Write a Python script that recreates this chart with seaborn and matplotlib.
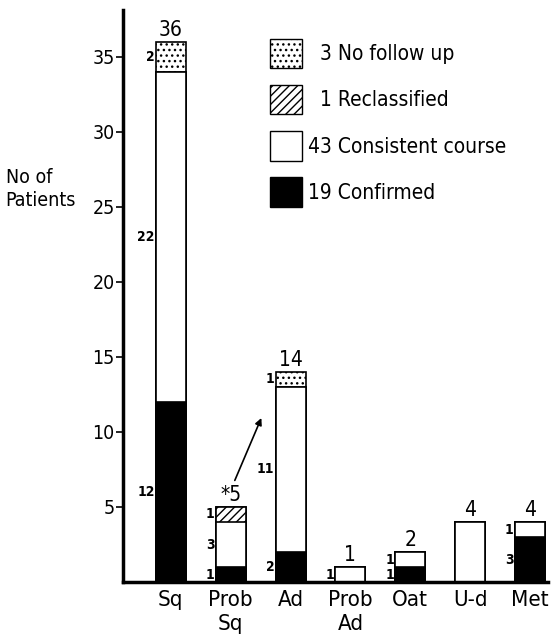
import matplotlib
matplotlib.use("Agg")
import matplotlib.pyplot as plt
import matplotlib.patches as mpatches
import seaborn as sns
import pandas as pd

# Patients by histological group
groups = ['Sq', 'Prob\nSq', 'Ad', 'Prob\nAd', 'Oat', 'U-d', 'Met']
confirmed = [12, 1, 2, 0, 1, 0, 3]
consistent = [22, 3, 11, 1, 1, 4, 1]
reclassified = [0, 1, 0, 0, 0, 0, 0]
no_follow_up = [2, 0, 1, 0, 0, 0, 0]
total_labels = ['36', '*5', '14', '1', '2', '4', '4']
show_counts = [True, True, True, True, True, False, True]

legend_counts = ['3', '1', '43', '19']
legend_names = ['No follow up', 'Reclassified', 'Consistent course', 'Confirmed']

sns.set_style("white")
plt.rcParams['font.family'] = ['DejaVu Sans']
plt.rcParams['font.stretch'] = 'condensed'
plt.rcParams['hatch.linewidth'] = 1.0
for k in ['text.color', 'axes.labelcolor', 'xtick.color', 'ytick.color']:
    plt.rcParams[k] = 'black'

df = pd.DataFrame({'group': groups, 'confirmed': confirmed, 'consistent': consistent,
                   'reclassified': reclassified, 'no_follow_up': no_follow_up})
df['c1'] = df['confirmed']
df['c2'] = df['c1'] + df['consistent']
df['c3'] = df['c2'] + df['reclassified']
df['c4'] = df['c3'] + df['no_follow_up']

fig = plt.figure(figsize=(5.54, 6.41), dpi=100)
ax = fig.add_axes([0.222, 0.092, 0.767, 0.892])

stipple = '...'
# stacked bars drawn back to front
layers = [('c4', 'white', stipple), ('c3', 'white', '////'), ('c2', 'white', None), ('c1', 'black', None)]
for col, color, hatch in layers:
    sns.barplot(data=df, x='group', y=col, color=color, saturation=1, width=0.5,
                edgecolor='black', linewidth=1.2, hatch=hatch, ax=ax, errorbar=None)

# segment counts to the left of each bar
segs = ['confirmed', 'consistent', 'reclassified', 'no_follow_up']
for i in range(len(groups)):
    base = 0
    for s in segs:
        v = df[s][i]
        if v > 0 and show_counts[i]:
            ax.text(i - 0.27, base + v / 2, str(v), ha='right', va='center',
                    fontsize=10, fontweight='bold')
        base += v
    ax.text(i, df['c4'][i] + 0.15, total_labels[i], ha='center', va='bottom', fontsize=15)

ax.annotate('', xy=(1.53, 11.1), xytext=(1.05, 6.6),
            arrowprops=dict(arrowstyle='-|>', color='black', lw=1.2))

ax.set_xlim(-0.8, 6.3)
ax.set_ylim(0, 38.1)
ax.set_yticks([5, 10, 15, 20, 25, 30, 35])
ax.tick_params(axis='y', labelsize=14, length=5, width=1.2, left=True, pad=1)
ax.tick_params(axis='x', labelsize=16, length=0, pad=6)
ax.set_xlabel('')
ax.set_ylabel('')
for side in ['top', 'right']:
    ax.spines[side].set_visible(False)
for side in ['left', 'bottom']:
    ax.spines[side].set_linewidth(2.5)
    ax.spines[side].set_color('black')

fig.text(0.01, 0.705, 'No of\nPatients', fontsize=14, ha='left', va='center', linespacing=1.3)

handles = [mpatches.Patch(facecolor='white', edgecolor='black', hatch=stipple),
           mpatches.Patch(facecolor='white', edgecolor='black', hatch='////'),
           mpatches.Patch(facecolor='white', edgecolor='black'),
           mpatches.Patch(facecolor='black', edgecolor='black')]
labels = [f'{c.rjust(2, chr(0x2007))} {n}' for c, n in zip(legend_counts, legend_names)]
ax.legend(handles, labels, loc='upper left', bbox_to_anchor=(0.346, 0.95), frameon=False,
          borderpad=0, borderaxespad=0, fontsize=15, handlelength=1.55, handleheight=1.8,
          labelspacing=0.8, handletextpad=0.25)

fig.savefig('out.png', dpi=100)
